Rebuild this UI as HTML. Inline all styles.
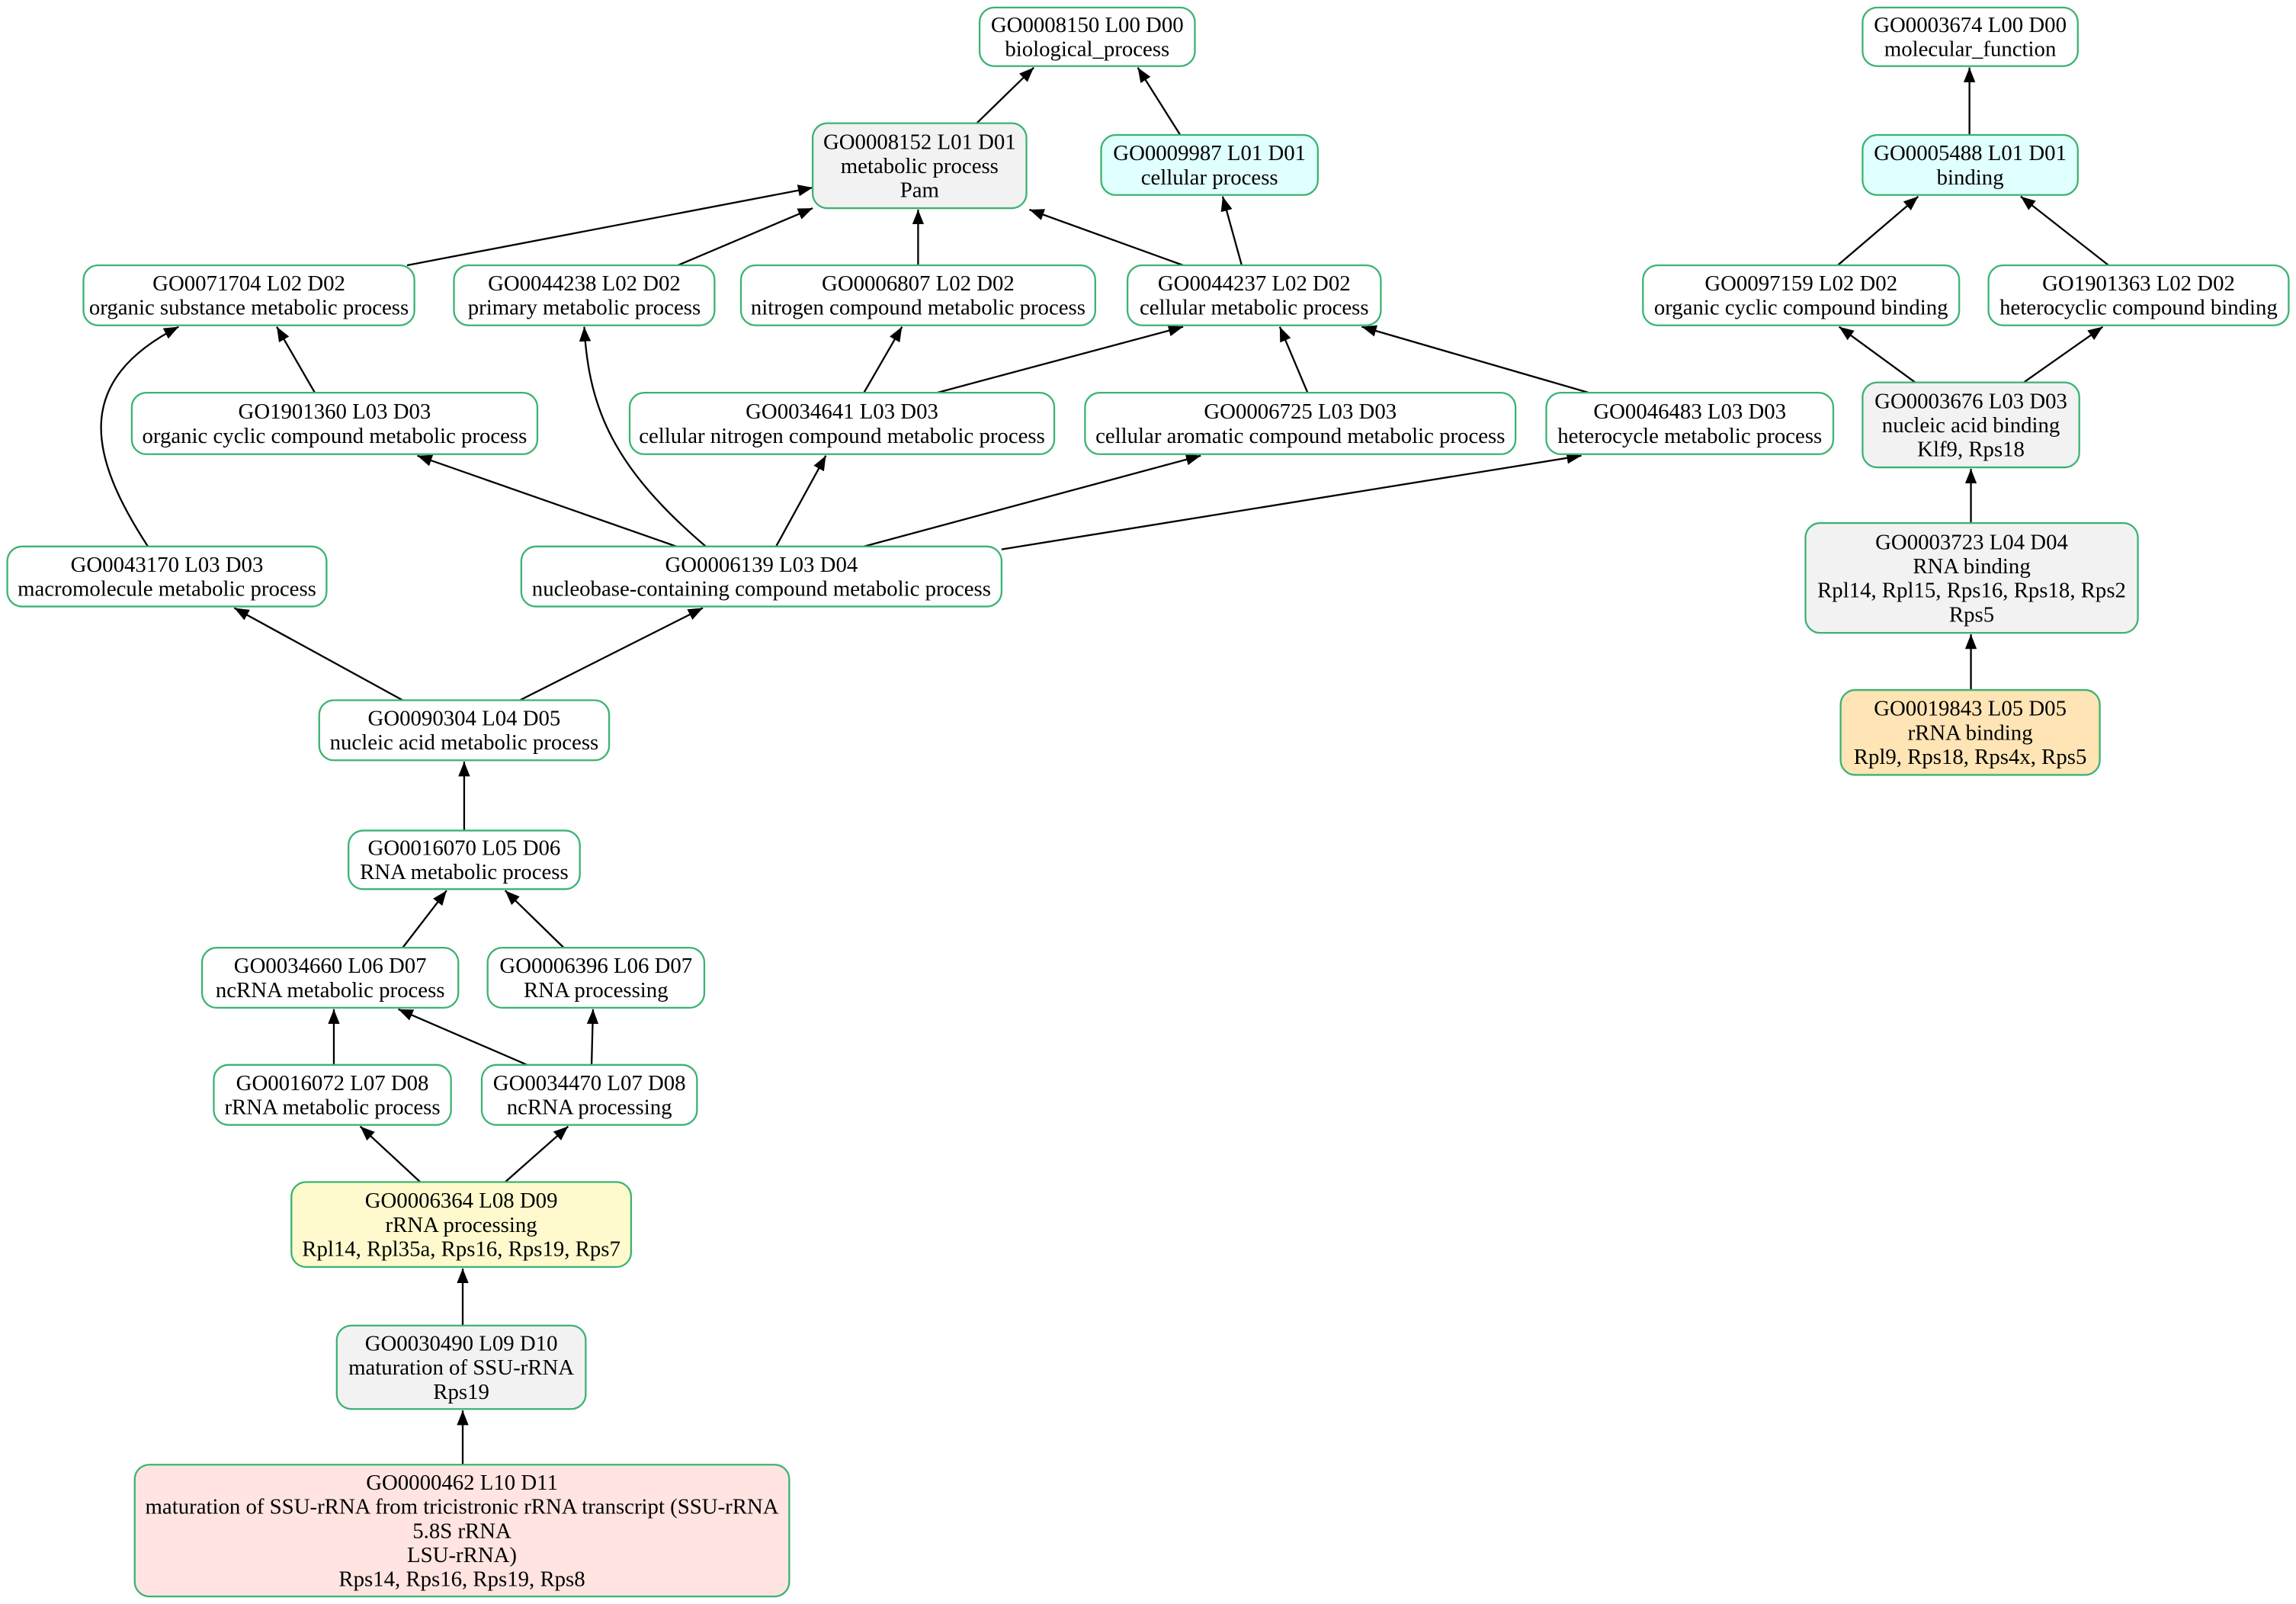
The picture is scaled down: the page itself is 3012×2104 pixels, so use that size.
<!DOCTYPE html>
<html><head><meta charset="utf-8"><style>
html,body{margin:0;padding:0;background:#fff;}
svg{display:block;}
text{font-family:"Liberation Serif",serif;font-size:15px;text-anchor:middle;fill:#000;}
rect{stroke:#3cb371;stroke-width:1.2;}
.l{stroke:#000;stroke-width:1.2;fill:none;marker-end:url(#a);}
</style></head><body>
<svg width="3012" height="2104" viewBox="0 0 1568 1095" xmlns="http://www.w3.org/2000/svg">
<defs><marker id="a" viewBox="0 0 10 8" refX="10" refY="4" markerWidth="10" markerHeight="8" markerUnits="userSpaceOnUse" orient="auto"><path d="M0,0L10,4L0,8z" fill="#000"/></marker></defs>
<rect x="0" y="0" width="1568" height="1095" fill="#fff" style="stroke:none"/>
<path class="l" d="M667,84L706,46"/>
<path class="l" d="M806,92L777,46"/>
<path class="l" d="M1345,92L1345,46"/>
<path class="l" d="M278,181L555,128"/>
<path class="l" d="M463,181L555,142"/>
<path class="l" d="M627,181L627,143"/>
<path class="l" d="M808,181L703,143"/>
<path class="l" d="M848,181L835,134"/>
<path class="l" d="M1255,181L1310,134"/>
<path class="l" d="M1440,181L1380,134"/>
<path class="l" d="M215,268L189,223"/>
<path class="l" d="M101,373C60,310 50,260 122,223"/>
<path class="l" d="M482,373C420,320 402,280 399,223"/>
<path class="l" d="M590,268L616,223"/>
<path class="l" d="M640,268L808,223"/>
<path class="l" d="M893,268L874,223"/>
<path class="l" d="M1085,268L930,223"/>
<path class="l" d="M1308,261L1256,223"/>
<path class="l" d="M1382,261L1436,223"/>
<path class="l" d="M462,373L285,311"/>
<path class="l" d="M530,373L564,311"/>
<path class="l" d="M590,373L820,311"/>
<path class="l" d="M684,375L1080,311"/>
<path class="l" d="M1346,357L1346,320"/>
<path class="l" d="M1346,471L1346,433"/>
<path class="l" d="M275,478L160,415"/>
<path class="l" d="M355,478L480,415"/>
<path class="l" d="M317,567L317,520"/>
<path class="l" d="M275,647L305,608"/>
<path class="l" d="M385,647L345,608"/>
<path class="l" d="M228,727L228,689"/>
<path class="l" d="M360,727L272,689"/>
<path class="l" d="M404,727L405,689"/>
<path class="l" d="M287,807L246,769"/>
<path class="l" d="M345,807L388,769"/>
<path class="l" d="M316,905L316,866"/>
<path class="l" d="M316,1000L316,963"/>
<rect x="669" y="5" width="147" height="40" rx="10" fill="#fff"/><text x="742.5" y="21.7">GO0008150 L00 D00</text><text x="742.5" y="38.2">biological_process</text>
<rect x="1272" y="5" width="147" height="40" rx="10" fill="#fff"/><text x="1345.5" y="21.7">GO0003674 L00 D00</text><text x="1345.5" y="38.2">molecular_function</text>
<rect x="555" y="84" width="146" height="58" rx="10" fill="#f2f2f2"/><text x="628" y="101.5">GO0008152 L01 D01</text><text x="628" y="118">metabolic process</text><text x="628" y="134.5">Pam</text>
<rect x="752" y="92" width="148" height="41" rx="10" fill="#e0ffff"/><text x="826" y="109.2">GO0009987 L01 D01</text><text x="826" y="125.7">cellular process</text>
<rect x="1272" y="92" width="147" height="41" rx="10" fill="#e0ffff"/><text x="1345.5" y="109.2">GO0005488 L01 D01</text><text x="1345.5" y="125.7">binding</text>
<rect x="57" y="181" width="226" height="41" rx="10" fill="#fff"/><text x="170" y="198.2">GO0071704 L02 D02</text><text x="170" y="214.7">organic substance metabolic process</text>
<rect x="310" y="181" width="178" height="41" rx="10" fill="#fff"/><text x="399" y="198.2">GO0044238 L02 D02</text><text x="399" y="214.7">primary metabolic process</text>
<rect x="506" y="181" width="242" height="41" rx="10" fill="#fff"/><text x="627" y="198.2">GO0006807 L02 D02</text><text x="627" y="214.7">nitrogen compound metabolic process</text>
<rect x="770" y="181" width="173" height="41" rx="10" fill="#fff"/><text x="856.5" y="198.2">GO0044237 L02 D02</text><text x="856.5" y="214.7">cellular metabolic process</text>
<rect x="1122" y="181" width="216" height="41" rx="10" fill="#fff"/><text x="1230" y="198.2">GO0097159 L02 D02</text><text x="1230" y="214.7">organic cyclic compound binding</text>
<rect x="1358" y="181" width="205" height="41" rx="10" fill="#fff"/><text x="1460.5" y="198.2">GO1901363 L02 D02</text><text x="1460.5" y="214.7">heterocyclic compound binding</text>
<rect x="90" y="268" width="277" height="42" rx="10" fill="#fff"/><text x="228.5" y="285.7">GO1901360 L03 D03</text><text x="228.5" y="302.2">organic cyclic compound metabolic process</text>
<rect x="430" y="268" width="290" height="42" rx="10" fill="#fff"/><text x="575" y="285.7">GO0034641 L03 D03</text><text x="575" y="302.2">cellular nitrogen compound metabolic process</text>
<rect x="741" y="268" width="294" height="42" rx="10" fill="#fff"/><text x="888" y="285.7">GO0006725 L03 D03</text><text x="888" y="302.2">cellular aromatic compound metabolic process</text>
<rect x="1056" y="268" width="196" height="42" rx="10" fill="#fff"/><text x="1154" y="285.7">GO0046483 L03 D03</text><text x="1154" y="302.2">heterocycle metabolic process</text>
<rect x="1272" y="261" width="148" height="58" rx="10" fill="#f2f2f2"/><text x="1346" y="278.5">GO0003676 L03 D03</text><text x="1346" y="295">nucleic acid binding</text><text x="1346" y="311.5">Klf9, Rps18</text>
<rect x="5" y="373" width="218" height="41" rx="10" fill="#fff"/><text x="114" y="390.2">GO0043170 L03 D03</text><text x="114" y="406.7">macromolecule metabolic process</text>
<rect x="356" y="373" width="328" height="41" rx="10" fill="#fff"/><text x="520" y="390.2">GO0006139 L03 D04</text><text x="520" y="406.7">nucleobase-containing compound metabolic process</text>
<rect x="1233" y="357" width="227" height="75" rx="10" fill="#f2f2f2"/><text x="1346.5" y="374.8">GO0003723 L04 D04</text><text x="1346.5" y="391.3">RNA binding</text><text x="1346.5" y="407.8">Rpl14, Rpl15, Rps16, Rps18, Rps2</text><text x="1346.5" y="424.3">Rps5</text>
<rect x="218" y="478" width="198" height="41" rx="10" fill="#fff"/><text x="317" y="495.2">GO0090304 L04 D05</text><text x="317" y="511.7">nucleic acid metabolic process</text>
<rect x="1257" y="471" width="177" height="58" rx="10" fill="#ffe4b5"/><text x="1345.5" y="488.5">GO0019843 L05 D05</text><text x="1345.5" y="505">rRNA binding</text><text x="1345.5" y="521.5">Rpl9, Rps18, Rps4x, Rps5</text>
<rect x="238" y="567" width="158" height="40" rx="10" fill="#fff"/><text x="317" y="583.7">GO0016070 L05 D06</text><text x="317" y="600.2">RNA metabolic process</text>
<rect x="138" y="647" width="175" height="41" rx="10" fill="#fff"/><text x="225.5" y="664.2">GO0034660 L06 D07</text><text x="225.5" y="680.7">ncRNA metabolic process</text>
<rect x="333" y="647" width="148" height="41" rx="10" fill="#fff"/><text x="407" y="664.2">GO0006396 L06 D07</text><text x="407" y="680.7">RNA processing</text>
<rect x="146" y="727" width="162" height="41" rx="10" fill="#fff"/><text x="227" y="744.2">GO0016072 L07 D08</text><text x="227" y="760.7">rRNA metabolic process</text>
<rect x="329" y="727" width="147" height="41" rx="10" fill="#fff"/><text x="402.5" y="744.2">GO0034470 L07 D08</text><text x="402.5" y="760.7">ncRNA processing</text>
<rect x="199" y="807" width="232" height="58" rx="10" fill="#fffacd"/><text x="315" y="824.5">GO0006364 L08 D09</text><text x="315" y="841">rRNA processing</text><text x="315" y="857.5">Rpl14, Rpl35a, Rps16, Rps19, Rps7</text>
<rect x="230" y="905" width="170" height="57" rx="10" fill="#f2f2f2"/><text x="315" y="922">GO0030490 L09 D10</text><text x="315" y="938.5">maturation of SSU-rRNA</text><text x="315" y="955">Rps19</text>
<rect x="92" y="1000" width="447" height="90" rx="10" fill="#ffe4e1"/><text x="315.5" y="1017">GO0000462 L10 D11</text><text x="315.5" y="1033.5">maturation of SSU-rRNA from tricistronic rRNA transcript (SSU-rRNA</text><text x="315.5" y="1050">5.8S rRNA</text><text x="315.5" y="1066.5">LSU-rRNA)</text><text x="315.5" y="1083">Rps14, Rps16, Rps19, Rps8</text>
</svg>
</body></html>
